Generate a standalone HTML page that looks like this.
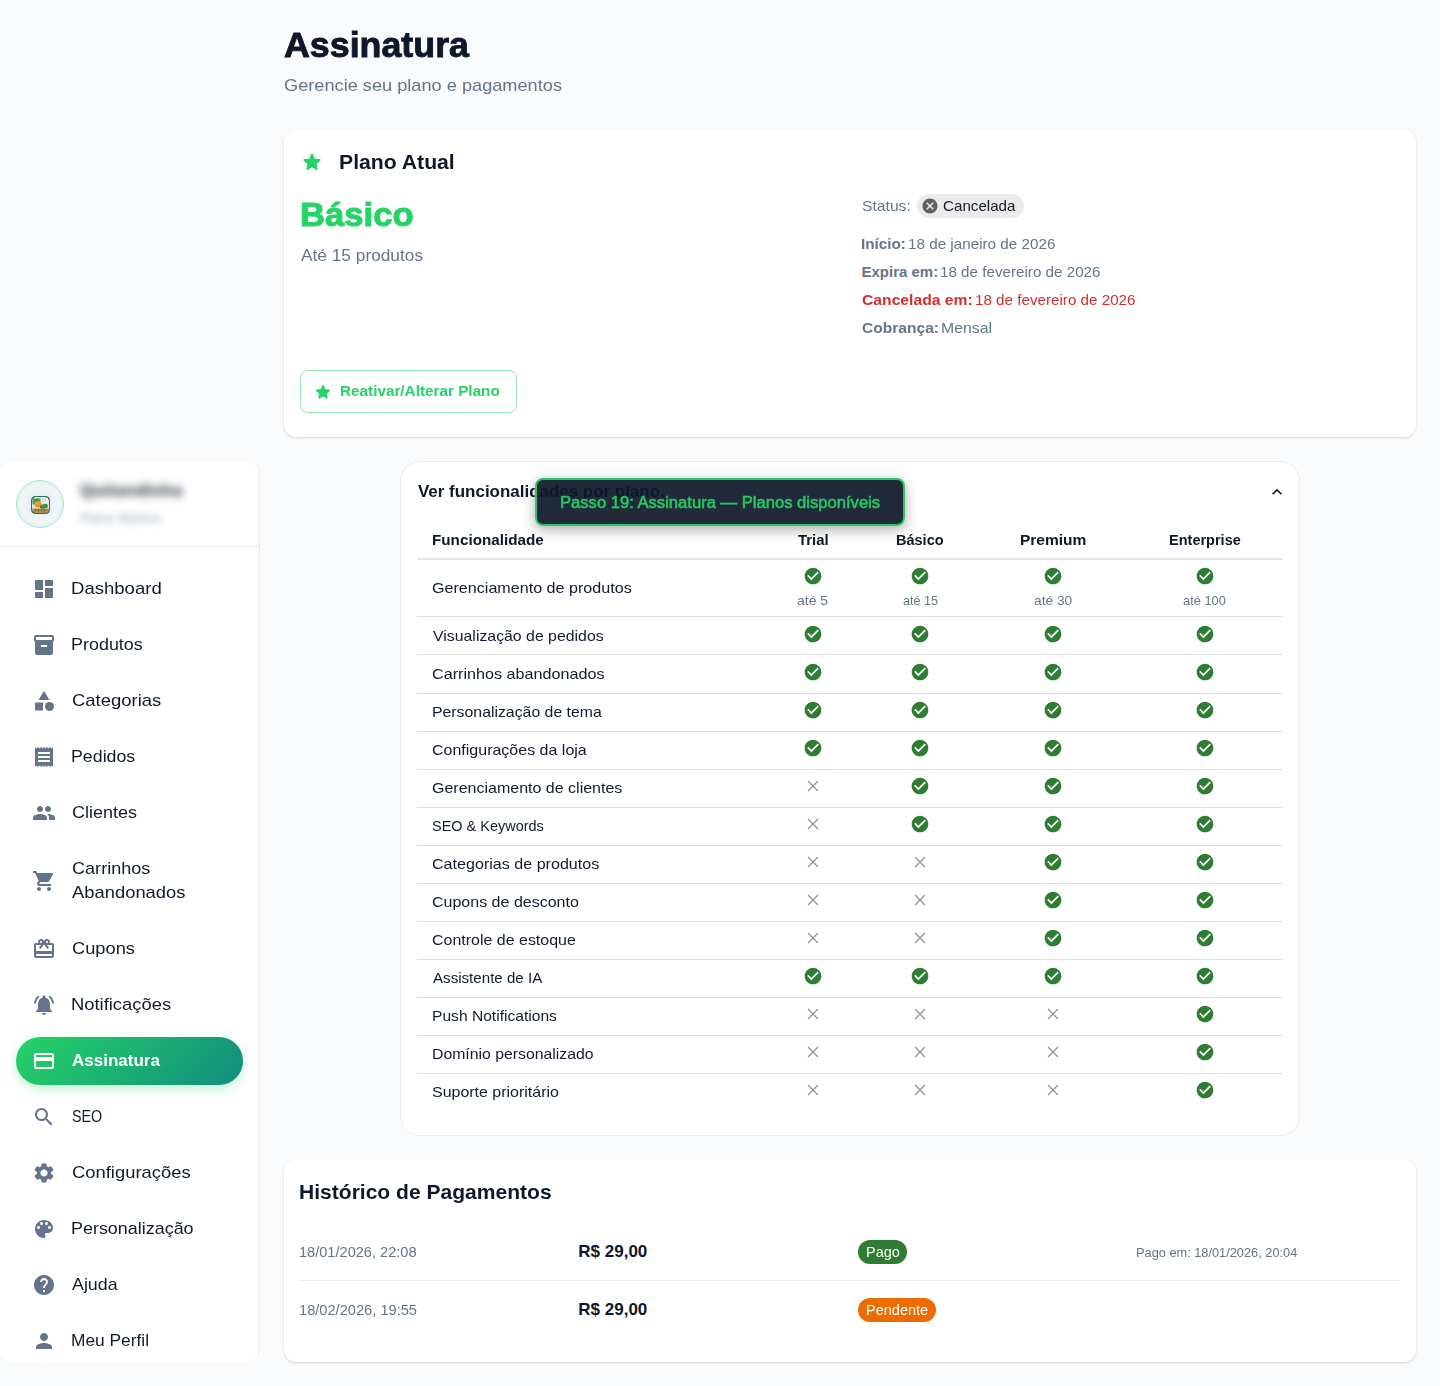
<!DOCTYPE html>
<html lang="pt-BR">
<head>
<meta charset="utf-8">
<title>Assinatura</title>
<style>
*{box-sizing:border-box;margin:0;padding:0}
html,body{width:1440px;height:1386px;overflow:hidden}
body{background:#f8fafc;font-family:"Liberation Sans",sans-serif;color:#0f172a;position:relative}
svg{display:block}
.abs{position:absolute}
.t{position:absolute;white-space:nowrap;line-height:1}

/* ---------- sidebar ---------- */
.sb{position:absolute;left:0;top:462px;width:260px;height:900px;background:#fff;border-right:1px solid #ebebeb;border-radius:12px;overflow:hidden}
.sb .hd{position:absolute;left:0;top:0;width:100%;height:85px;border-bottom:1px solid #e8ecf1}
.av{position:absolute;left:16px;top:18px;width:48px;height:48px;border-radius:50%;border:1px solid #a7e5c4;background:radial-gradient(circle at 50% 50%,#e8f1f4 0,#e7f0f4 38%,#f1f6f8 56%,#ebf3f6 64%,#deebf0 80%,#d7e7ed 100%)}
.av svg{position:absolute;left:14px;top:14.5px;width:19px;height:18px}
.blur1{position:absolute;left:80px;top:19px;font-size:17px;font-weight:700;color:#1e293b;letter-spacing:.3px;line-height:20px;white-space:nowrap;filter:blur(4.4px)}
.blur2{position:absolute;left:80px;top:48.5px;font-size:13.8px;color:#8b97a8;line-height:16px;white-space:nowrap;filter:blur(3.8px);opacity:.8}
.nav{position:absolute;left:16px;width:227px;height:48px;border-radius:24px}
.nav svg{position:absolute;left:16px;top:12px;width:24px;height:24px;fill:#64748b}
.nav.two{height:80px}
.nav.two svg{top:28px}
.nav.on{background:linear-gradient(135deg,#25d366 0%,#128c7e 100%);box-shadow:0 4px 12px rgba(37,211,102,.3)}
.nav.on svg{fill:#fff}

.t{transform-origin:0 0;display:block}

/* ---------- main ---------- */
.card{position:absolute;background:#fff;border-radius:12px;box-shadow:0 1px 3px rgba(0,0,0,.10),0 1px 2px rgba(0,0,0,.06)}
.acc{position:absolute;left:400px;top:461px;width:900px;height:675px;background:#fff;border:1px solid #ebebeb;border-radius:20px}
.ic{position:absolute}
.chip{position:absolute;height:24px;border-radius:12px}
.btn{position:absolute;left:300px;top:370px;width:217px;height:43px;border:1px solid rgba(37,211,102,.5);border-radius:8px}
.ln{position:absolute;left:417px;width:866px;height:1px;background:#e0e0e0}
.ck{position:absolute;width:20px;height:20px;fill:#2e7d32}
.xx{position:absolute;width:12px;height:12px;stroke:#939393;stroke-width:1.25;fill:none}
.tip{position:absolute;left:535px;top:478px;width:370px;height:47.5px;background:rgba(15,23,42,.92);border:2px solid #23cb62;border-radius:8px;box-shadow:0 4px 14px rgba(0,0,0,.32);z-index:20}
</style>
</head>
<body>
<!-- ================= MAIN ================= -->
<div class="card" style="left:284px;top:130px;width:1132px;height:307px"></div>
<svg class="ic" style="left:300px;top:150px;width:24px;height:24px;fill:#25d366" viewBox="0 0 24 24"><path d="M12 17.27l4.15 2.51c.76.46 1.69-.22 1.49-1.08l-1.1-4.72 3.67-3.18c.67-.58.31-1.68-.57-1.75l-4.83-.41-1.89-4.46c-.34-.81-1.5-.81-1.84 0L9.19 8.63l-4.83.41c-.88.07-1.24 1.17-.57 1.75l3.67 3.18-1.1 4.72c-.2.86.73 1.54 1.49 1.08l4.15-2.5z"/></svg>
<div class="chip" style="left:917px;top:194px;width:107px;background:#ebebeb"></div>
<svg class="ic" style="left:921px;top:197px;width:18px;height:18px;fill:#616161" viewBox="0 0 24 24"><path d="M12 2C6.47 2 2 6.47 2 12s4.47 10 10 10 10-4.47 10-10S17.53 2 12 2zm5 13.59L15.59 17 12 13.41 8.41 17 7 15.59 10.59 12 7 8.41 8.41 7 12 10.59 15.59 7 17 8.41 13.41 12 17 15.59z"/></svg>
<div class="btn"></div>
<svg class="ic" style="left:313px;top:381.5px;width:20px;height:20px;fill:#25d366" viewBox="0 0 24 24"><path d="M12 17.27l4.15 2.51c.76.46 1.69-.22 1.49-1.08l-1.1-4.72 3.67-3.18c.67-.58.31-1.68-.57-1.75l-4.83-.41-1.89-4.46c-.34-.81-1.5-.81-1.84 0L9.19 8.63l-4.83.41c-.88.07-1.24 1.17-.57 1.75l3.67 3.18-1.1 4.72c-.2.86.73 1.54 1.49 1.08l4.15-2.5z"/></svg>
<div class="acc"></div>
<svg class="ic" style="left:1267px;top:482px;width:20px;height:20px;fill:#0f172a" viewBox="0 0 24 24"><path d="M12 8l-6 6 1.41 1.41L12 10.83l4.59 4.58L18 14z"/></svg>
<div class="ln" style="top:558px;height:2px;background:#e6e7e9"></div>
<div class="ln" style="top:616px"></div>
<div class="ln" style="top:654px"></div>
<div class="ln" style="top:693px"></div>
<div class="ln" style="top:731px"></div>
<div class="ln" style="top:769px"></div>
<div class="ln" style="top:807px"></div>
<div class="ln" style="top:845px"></div>
<div class="ln" style="top:883px"></div>
<div class="ln" style="top:921px"></div>
<div class="ln" style="top:959px"></div>
<div class="ln" style="top:997px"></div>
<div class="ln" style="top:1035px"></div>
<div class="ln" style="top:1073px"></div>
<svg class="ck" style="left:802.9px;top:566.2px" viewBox="0 0 24 24"><path d="M12 2C6.48 2 2 6.48 2 12s4.48 10 10 10 10-4.48 10-10S17.52 2 12 2zm-2 15l-5-5 1.41-1.41L10 14.17l7.59-7.59L19 8l-9 9z"/></svg>
<svg class="ck" style="left:910.1px;top:566.2px" viewBox="0 0 24 24"><path d="M12 2C6.48 2 2 6.48 2 12s4.48 10 10 10 10-4.48 10-10S17.52 2 12 2zm-2 15l-5-5 1.41-1.41L10 14.17l7.59-7.59L19 8l-9 9z"/></svg>
<svg class="ck" style="left:1043.0px;top:566.2px" viewBox="0 0 24 24"><path d="M12 2C6.48 2 2 6.48 2 12s4.48 10 10 10 10-4.48 10-10S17.52 2 12 2zm-2 15l-5-5 1.41-1.41L10 14.17l7.59-7.59L19 8l-9 9z"/></svg>
<svg class="ck" style="left:1195.0px;top:566.2px" viewBox="0 0 24 24"><path d="M12 2C6.48 2 2 6.48 2 12s4.48 10 10 10 10-4.48 10-10S17.52 2 12 2zm-2 15l-5-5 1.41-1.41L10 14.17l7.59-7.59L19 8l-9 9z"/></svg>
<svg class="ck" style="left:802.9px;top:624.0px" viewBox="0 0 24 24"><path d="M12 2C6.48 2 2 6.48 2 12s4.48 10 10 10 10-4.48 10-10S17.52 2 12 2zm-2 15l-5-5 1.41-1.41L10 14.17l7.59-7.59L19 8l-9 9z"/></svg>
<svg class="ck" style="left:910.1px;top:624.0px" viewBox="0 0 24 24"><path d="M12 2C6.48 2 2 6.48 2 12s4.48 10 10 10 10-4.48 10-10S17.52 2 12 2zm-2 15l-5-5 1.41-1.41L10 14.17l7.59-7.59L19 8l-9 9z"/></svg>
<svg class="ck" style="left:1043.0px;top:624.0px" viewBox="0 0 24 24"><path d="M12 2C6.48 2 2 6.48 2 12s4.48 10 10 10 10-4.48 10-10S17.52 2 12 2zm-2 15l-5-5 1.41-1.41L10 14.17l7.59-7.59L19 8l-9 9z"/></svg>
<svg class="ck" style="left:1195.0px;top:624.0px" viewBox="0 0 24 24"><path d="M12 2C6.48 2 2 6.48 2 12s4.48 10 10 10 10-4.48 10-10S17.52 2 12 2zm-2 15l-5-5 1.41-1.41L10 14.17l7.59-7.59L19 8l-9 9z"/></svg>
<svg class="ck" style="left:802.9px;top:662.0px" viewBox="0 0 24 24"><path d="M12 2C6.48 2 2 6.48 2 12s4.48 10 10 10 10-4.48 10-10S17.52 2 12 2zm-2 15l-5-5 1.41-1.41L10 14.17l7.59-7.59L19 8l-9 9z"/></svg>
<svg class="ck" style="left:910.1px;top:662.0px" viewBox="0 0 24 24"><path d="M12 2C6.48 2 2 6.48 2 12s4.48 10 10 10 10-4.48 10-10S17.52 2 12 2zm-2 15l-5-5 1.41-1.41L10 14.17l7.59-7.59L19 8l-9 9z"/></svg>
<svg class="ck" style="left:1043.0px;top:662.0px" viewBox="0 0 24 24"><path d="M12 2C6.48 2 2 6.48 2 12s4.48 10 10 10 10-4.48 10-10S17.52 2 12 2zm-2 15l-5-5 1.41-1.41L10 14.17l7.59-7.59L19 8l-9 9z"/></svg>
<svg class="ck" style="left:1195.0px;top:662.0px" viewBox="0 0 24 24"><path d="M12 2C6.48 2 2 6.48 2 12s4.48 10 10 10 10-4.48 10-10S17.52 2 12 2zm-2 15l-5-5 1.41-1.41L10 14.17l7.59-7.59L19 8l-9 9z"/></svg>
<svg class="ck" style="left:802.9px;top:700.0px" viewBox="0 0 24 24"><path d="M12 2C6.48 2 2 6.48 2 12s4.48 10 10 10 10-4.48 10-10S17.52 2 12 2zm-2 15l-5-5 1.41-1.41L10 14.17l7.59-7.59L19 8l-9 9z"/></svg>
<svg class="ck" style="left:910.1px;top:700.0px" viewBox="0 0 24 24"><path d="M12 2C6.48 2 2 6.48 2 12s4.48 10 10 10 10-4.48 10-10S17.52 2 12 2zm-2 15l-5-5 1.41-1.41L10 14.17l7.59-7.59L19 8l-9 9z"/></svg>
<svg class="ck" style="left:1043.0px;top:700.0px" viewBox="0 0 24 24"><path d="M12 2C6.48 2 2 6.48 2 12s4.48 10 10 10 10-4.48 10-10S17.52 2 12 2zm-2 15l-5-5 1.41-1.41L10 14.17l7.59-7.59L19 8l-9 9z"/></svg>
<svg class="ck" style="left:1195.0px;top:700.0px" viewBox="0 0 24 24"><path d="M12 2C6.48 2 2 6.48 2 12s4.48 10 10 10 10-4.48 10-10S17.52 2 12 2zm-2 15l-5-5 1.41-1.41L10 14.17l7.59-7.59L19 8l-9 9z"/></svg>
<svg class="ck" style="left:802.9px;top:738.0px" viewBox="0 0 24 24"><path d="M12 2C6.48 2 2 6.48 2 12s4.48 10 10 10 10-4.48 10-10S17.52 2 12 2zm-2 15l-5-5 1.41-1.41L10 14.17l7.59-7.59L19 8l-9 9z"/></svg>
<svg class="ck" style="left:910.1px;top:738.0px" viewBox="0 0 24 24"><path d="M12 2C6.48 2 2 6.48 2 12s4.48 10 10 10 10-4.48 10-10S17.52 2 12 2zm-2 15l-5-5 1.41-1.41L10 14.17l7.59-7.59L19 8l-9 9z"/></svg>
<svg class="ck" style="left:1043.0px;top:738.0px" viewBox="0 0 24 24"><path d="M12 2C6.48 2 2 6.48 2 12s4.48 10 10 10 10-4.48 10-10S17.52 2 12 2zm-2 15l-5-5 1.41-1.41L10 14.17l7.59-7.59L19 8l-9 9z"/></svg>
<svg class="ck" style="left:1195.0px;top:738.0px" viewBox="0 0 24 24"><path d="M12 2C6.48 2 2 6.48 2 12s4.48 10 10 10 10-4.48 10-10S17.52 2 12 2zm-2 15l-5-5 1.41-1.41L10 14.17l7.59-7.59L19 8l-9 9z"/></svg>
<svg class="xx" style="left:806.9px;top:780.0px" viewBox="0 0 12 12"><path d="M1 1l10 10M11 1L1 11"/></svg>
<svg class="ck" style="left:910.1px;top:776.0px" viewBox="0 0 24 24"><path d="M12 2C6.48 2 2 6.48 2 12s4.48 10 10 10 10-4.48 10-10S17.52 2 12 2zm-2 15l-5-5 1.41-1.41L10 14.17l7.59-7.59L19 8l-9 9z"/></svg>
<svg class="ck" style="left:1043.0px;top:776.0px" viewBox="0 0 24 24"><path d="M12 2C6.48 2 2 6.48 2 12s4.48 10 10 10 10-4.48 10-10S17.52 2 12 2zm-2 15l-5-5 1.41-1.41L10 14.17l7.59-7.59L19 8l-9 9z"/></svg>
<svg class="ck" style="left:1195.0px;top:776.0px" viewBox="0 0 24 24"><path d="M12 2C6.48 2 2 6.48 2 12s4.48 10 10 10 10-4.48 10-10S17.52 2 12 2zm-2 15l-5-5 1.41-1.41L10 14.17l7.59-7.59L19 8l-9 9z"/></svg>
<svg class="xx" style="left:806.9px;top:818.0px" viewBox="0 0 12 12"><path d="M1 1l10 10M11 1L1 11"/></svg>
<svg class="ck" style="left:910.1px;top:814.0px" viewBox="0 0 24 24"><path d="M12 2C6.48 2 2 6.48 2 12s4.48 10 10 10 10-4.48 10-10S17.52 2 12 2zm-2 15l-5-5 1.41-1.41L10 14.17l7.59-7.59L19 8l-9 9z"/></svg>
<svg class="ck" style="left:1043.0px;top:814.0px" viewBox="0 0 24 24"><path d="M12 2C6.48 2 2 6.48 2 12s4.48 10 10 10 10-4.48 10-10S17.52 2 12 2zm-2 15l-5-5 1.41-1.41L10 14.17l7.59-7.59L19 8l-9 9z"/></svg>
<svg class="ck" style="left:1195.0px;top:814.0px" viewBox="0 0 24 24"><path d="M12 2C6.48 2 2 6.48 2 12s4.48 10 10 10 10-4.48 10-10S17.52 2 12 2zm-2 15l-5-5 1.41-1.41L10 14.17l7.59-7.59L19 8l-9 9z"/></svg>
<svg class="xx" style="left:806.9px;top:856.0px" viewBox="0 0 12 12"><path d="M1 1l10 10M11 1L1 11"/></svg>
<svg class="xx" style="left:914.1px;top:856.0px" viewBox="0 0 12 12"><path d="M1 1l10 10M11 1L1 11"/></svg>
<svg class="ck" style="left:1043.0px;top:852.0px" viewBox="0 0 24 24"><path d="M12 2C6.48 2 2 6.48 2 12s4.48 10 10 10 10-4.48 10-10S17.52 2 12 2zm-2 15l-5-5 1.41-1.41L10 14.17l7.59-7.59L19 8l-9 9z"/></svg>
<svg class="ck" style="left:1195.0px;top:852.0px" viewBox="0 0 24 24"><path d="M12 2C6.48 2 2 6.48 2 12s4.48 10 10 10 10-4.48 10-10S17.52 2 12 2zm-2 15l-5-5 1.41-1.41L10 14.17l7.59-7.59L19 8l-9 9z"/></svg>
<svg class="xx" style="left:806.9px;top:894.0px" viewBox="0 0 12 12"><path d="M1 1l10 10M11 1L1 11"/></svg>
<svg class="xx" style="left:914.1px;top:894.0px" viewBox="0 0 12 12"><path d="M1 1l10 10M11 1L1 11"/></svg>
<svg class="ck" style="left:1043.0px;top:890.0px" viewBox="0 0 24 24"><path d="M12 2C6.48 2 2 6.48 2 12s4.48 10 10 10 10-4.48 10-10S17.52 2 12 2zm-2 15l-5-5 1.41-1.41L10 14.17l7.59-7.59L19 8l-9 9z"/></svg>
<svg class="ck" style="left:1195.0px;top:890.0px" viewBox="0 0 24 24"><path d="M12 2C6.48 2 2 6.48 2 12s4.48 10 10 10 10-4.48 10-10S17.52 2 12 2zm-2 15l-5-5 1.41-1.41L10 14.17l7.59-7.59L19 8l-9 9z"/></svg>
<svg class="xx" style="left:806.9px;top:932.0px" viewBox="0 0 12 12"><path d="M1 1l10 10M11 1L1 11"/></svg>
<svg class="xx" style="left:914.1px;top:932.0px" viewBox="0 0 12 12"><path d="M1 1l10 10M11 1L1 11"/></svg>
<svg class="ck" style="left:1043.0px;top:928.0px" viewBox="0 0 24 24"><path d="M12 2C6.48 2 2 6.48 2 12s4.48 10 10 10 10-4.48 10-10S17.52 2 12 2zm-2 15l-5-5 1.41-1.41L10 14.17l7.59-7.59L19 8l-9 9z"/></svg>
<svg class="ck" style="left:1195.0px;top:928.0px" viewBox="0 0 24 24"><path d="M12 2C6.48 2 2 6.48 2 12s4.48 10 10 10 10-4.48 10-10S17.52 2 12 2zm-2 15l-5-5 1.41-1.41L10 14.17l7.59-7.59L19 8l-9 9z"/></svg>
<svg class="ck" style="left:802.9px;top:966.0px" viewBox="0 0 24 24"><path d="M12 2C6.48 2 2 6.48 2 12s4.48 10 10 10 10-4.48 10-10S17.52 2 12 2zm-2 15l-5-5 1.41-1.41L10 14.17l7.59-7.59L19 8l-9 9z"/></svg>
<svg class="ck" style="left:910.1px;top:966.0px" viewBox="0 0 24 24"><path d="M12 2C6.48 2 2 6.48 2 12s4.48 10 10 10 10-4.48 10-10S17.52 2 12 2zm-2 15l-5-5 1.41-1.41L10 14.17l7.59-7.59L19 8l-9 9z"/></svg>
<svg class="ck" style="left:1043.0px;top:966.0px" viewBox="0 0 24 24"><path d="M12 2C6.48 2 2 6.48 2 12s4.48 10 10 10 10-4.48 10-10S17.52 2 12 2zm-2 15l-5-5 1.41-1.41L10 14.17l7.59-7.59L19 8l-9 9z"/></svg>
<svg class="ck" style="left:1195.0px;top:966.0px" viewBox="0 0 24 24"><path d="M12 2C6.48 2 2 6.48 2 12s4.48 10 10 10 10-4.48 10-10S17.52 2 12 2zm-2 15l-5-5 1.41-1.41L10 14.17l7.59-7.59L19 8l-9 9z"/></svg>
<svg class="xx" style="left:806.9px;top:1007.6px" viewBox="0 0 12 12"><path d="M1 1l10 10M11 1L1 11"/></svg>
<svg class="xx" style="left:914.1px;top:1007.6px" viewBox="0 0 12 12"><path d="M1 1l10 10M11 1L1 11"/></svg>
<svg class="xx" style="left:1047.0px;top:1007.6px" viewBox="0 0 12 12"><path d="M1 1l10 10M11 1L1 11"/></svg>
<svg class="ck" style="left:1195.0px;top:1003.6px" viewBox="0 0 24 24"><path d="M12 2C6.48 2 2 6.48 2 12s4.48 10 10 10 10-4.48 10-10S17.52 2 12 2zm-2 15l-5-5 1.41-1.41L10 14.17l7.59-7.59L19 8l-9 9z"/></svg>
<svg class="xx" style="left:806.9px;top:1045.7px" viewBox="0 0 12 12"><path d="M1 1l10 10M11 1L1 11"/></svg>
<svg class="xx" style="left:914.1px;top:1045.7px" viewBox="0 0 12 12"><path d="M1 1l10 10M11 1L1 11"/></svg>
<svg class="xx" style="left:1047.0px;top:1045.7px" viewBox="0 0 12 12"><path d="M1 1l10 10M11 1L1 11"/></svg>
<svg class="ck" style="left:1195.0px;top:1041.7px" viewBox="0 0 24 24"><path d="M12 2C6.48 2 2 6.48 2 12s4.48 10 10 10 10-4.48 10-10S17.52 2 12 2zm-2 15l-5-5 1.41-1.41L10 14.17l7.59-7.59L19 8l-9 9z"/></svg>
<svg class="xx" style="left:806.9px;top:1083.7px" viewBox="0 0 12 12"><path d="M1 1l10 10M11 1L1 11"/></svg>
<svg class="xx" style="left:914.1px;top:1083.7px" viewBox="0 0 12 12"><path d="M1 1l10 10M11 1L1 11"/></svg>
<svg class="xx" style="left:1047.0px;top:1083.7px" viewBox="0 0 12 12"><path d="M1 1l10 10M11 1L1 11"/></svg>
<svg class="ck" style="left:1195.0px;top:1079.7px" viewBox="0 0 24 24"><path d="M12 2C6.48 2 2 6.48 2 12s4.48 10 10 10 10-4.48 10-10S17.52 2 12 2zm-2 15l-5-5 1.41-1.41L10 14.17l7.59-7.59L19 8l-9 9z"/></svg>
<div class="tip"></div>
<div class="card" style="left:284px;top:1160px;width:1132px;height:202px"></div>
<div class="abs" style="left:300px;top:1280px;width:1100px;height:1px;background:#e6e9ee"></div>
<div class="chip" style="left:857.7px;top:1239.7px;width:49.6px;background:#2e7d32"></div>
<div class="chip" style="left:857.7px;top:1297.7px;width:78.3px;background:#ed6c02"></div>
<!-- ================= SIDEBAR ================= -->
<aside class="sb">
  <div class="hd">
    <div class="av"><svg viewBox="0 0 19 18">
      <rect x=".5" y=".5" width="18" height="17" rx="4" fill="#dfeadd" stroke="#2c6f63"/>
      <path d="M1.5 2.5h8v6h-8z" fill="#4f9c5b"/><path d="M3 3.5l3 2.5M6.500 2.500l-1 4" stroke="#2f7a45" stroke-width=".8"/>
      <path d="M10.500 2h6.500v5h-6.500z" fill="#edf3ee"/><path d="M12 2v4.500M14.500 2v3.500" stroke="#9fc4a8" stroke-width=".7"/>
      <circle cx="7" cy="8.200" r="3.300" fill="#f28c22"/><circle cx="6.200" cy="7.400" r="1.100" fill="#f7ad4d"/>
      <rect x="8.800" y="8.200" width="8.200" height="4.400" rx="2.200" fill="#3f8f4b" transform="rotate(-14 13 10.400)"/>
      <path d="M1.200 12.400h16.600v2.600a2.500 2.500 0 0 1-2.500 2.500H3.700a2.500 2.500 0 0 1-2.500-2.500z" fill="#b8935c"/>
      <path d="M2 14.200h15M4.500 12.600v4.500M7.500 12.600v4.500M10.500 12.600v4.500M13.500 12.600v4.500" stroke="#7c6236" stroke-width=".7"/>
      <rect x=".5" y=".5" width="18" height="17" rx="4" fill="none" stroke="#2c6f63"/>
    </svg></div>
    <div class="blur1">Quitandinha</div>
    <div class="blur2">Plano Básico</div>
  </div>

  <div class="nav" style="top:103px"><svg viewBox="0 0 24 24"><path d="M3 13h8V3H3v10zm0 8h8v-6H3v6zm10 0h8V11h-8v10zm0-18v6h8V3h-8z"/></svg></div>
  <div class="nav" style="top:159px"><svg viewBox="0 0 24 24"><path d="M20 2H4c-1 0-2 .9-2 2v3.01c0 .72.43 1.34 1 1.69V20c0 1.100 1.100 2 2 2h14c.9 0 2-.9 2-2V8.700c.57-.35 1-.97 1-1.690V4c0-1.100-1-2-2-2zm-5 12H9v-2h6v2zm5-7H4V4h16v3z"/></svg></div>
  <div class="nav" style="top:215px"><svg viewBox="0 0 24 24"><path d="M12 2l-5.500 9h11z"/><circle cx="17.500" cy="17.500" r="4.500"/><path d="M3 13.500h8v8H3z"/></svg></div>
  <div class="nav" style="top:271px"><svg viewBox="0 0 24 24"><path d="M18 17H6v-2h12v2zm0-4H6v-2h12v2zm0-4H6V7h12v2zM3 22l1.500-1.500L6 22l1.500-1.500L9 22l1.500-1.500L12 22l1.500-1.500L15 22l1.500-1.500L18 22l1.500-1.500L21 22V2l-1.500 1.500L18 2l-1.500 1.500L15 2l-1.500 1.500L12 2l-1.500 1.500L9 2 7.500 3.500 6 2 4.500 3.500 3 2v20z"/></svg></div>
  <div class="nav" style="top:327px"><svg viewBox="0 0 24 24"><path d="M16 11c1.660 0 2.990-1.340 2.990-3S17.660 5 16 5c-1.660 0-3 1.340-3 3s1.340 3 3 3zm-8 0c1.660 0 2.990-1.340 2.990-3S9.660 5 8 5C6.340 5 5 6.340 5 8s1.340 3 3 3zm0 2c-2.330 0-7 1.170-7 3.500V19h14v-2.500c0-2.330-4.670-3.500-7-3.500zm8 0c-.29 0-.62.020-.97.050 1.160.84 1.970 1.970 1.970 3.450V19h6v-2.500c0-2.330-4.670-3.500-7-3.500z"/></svg></div>
  <div class="nav two" style="top:379px"><svg viewBox="0 0 24 24"><path d="M7 18c-1.100 0-1.990.9-1.990 2S5.900 22 7 22s2-.9 2-2-.9-2-2-2zM1 2v2h2l3.600 7.590-1.350 2.450c-.16.28-.25.61-.25.960 0 1.100.9 2 2 2h12v-2H7.420c-.14 0-.25-.11-.25-.25l.030-.12.9-1.630h7.450c.75 0 1.410-.41 1.750-1.030l3.580-6.490c.080-.14.120-.31.120-.48 0-.55-.45-1-1-1H5.210l-.94-2H1zm16 16c-1.100 0-1.990.9-1.990 2s.89 2 1.990 2 2-.9 2-2-.9-2-2-2z"/></svg></div>
  <div class="nav" style="top:463px"><svg viewBox="0 0 24 24"><path d="M20 6h-2.180c.11-.31.18-.65.18-1 0-1.660-1.340-3-3-3-1.050 0-1.960.54-2.500 1.350l-.5.670-.5-.68C10.960 2.540 10.050 2 9 2 7.340 2 6 3.340 6 5c0 .35.070.69.18 1H4c-1.110 0-1.990.89-1.990 2L2 19c0 1.110.89 2 2 2h16c1.110 0 2-.89 2-2V8c0-1.110-.89-2-2-2zm-5-2c.55 0 1 .45 1 1s-.45 1-1 1-1-.45-1-1 .45-1 1-1zM9 4c.55 0 1 .45 1 1s-.45 1-1 1-1-.45-1-1 .45-1 1-1zm11 15H4v-2h16v2zm0-5H4V8h5.080L7 10.830 8.620 12 11 8.760l1-1.360 1 1.360L15.380 12 17 10.830 14.920 8H20v6z"/></svg></div>
  <div class="nav" style="top:519px"><svg viewBox="0 0 24 24"><path d="M7.580 4.080L6.150 2.650C3.750 4.480 2.170 7.300 2.030 10.500h2c.15-2.650 1.510-4.970 3.550-6.420zm12.390 6.420h2c-.15-3.200-1.730-6.020-4.120-7.850l-1.420 1.430c2.020 1.450 3.390 3.770 3.540 6.420zM18 11c0-3.070-1.640-5.640-4.500-6.320V4c0-.83-.67-1.500-1.500-1.500s-1.500.67-1.500 1.500v.68C7.630 5.360 6 7.920 6 11v5l-2 2v1h16v-1l-2-2v-5zm-6 11c.14 0 .27-.010.4-.040.65-.14 1.180-.58 1.440-1.180.1-.24.15-.5.15-.78h-4c.010 1.100.9 2 2.010 2z"/></svg></div>
  <div class="nav on" style="top:575px"><svg viewBox="0 0 24 24"><path d="M20 4H4c-1.110 0-1.990.89-1.990 2L2 18c0 1.110.89 2 2 2h16c1.110 0 2-.89 2-2V6c0-1.110-.89-2-2-2zm0 14H4v-6h16v6zm0-10H4V6h16v2z"/></svg></div>
  <div class="nav" style="top:631px"><svg viewBox="0 0 24 24"><path d="M15.500 14h-.79l-.28-.27C15.410 12.590 16 11.110 16 9.500 16 5.910 13.090 3 9.500 3S3 5.910 3 9.500 5.910 16 9.500 16c1.610 0 3.090-.59 4.230-1.570l.27.28v.79l5 4.990L20.490 19l-4.990-5zm-6 0C7.010 14 5 11.990 5 9.500S7.010 5 9.500 5 14 7.010 14 9.500 11.990 14 9.500 14z"/></svg></div>
  <div class="nav" style="top:687px"><svg viewBox="0 0 24 24"><path d="M19.140 12.940c.040-.3.060-.61.060-.94 0-.32-.020-.64-.070-.94l2.030-1.580c.18-.14.23-.41.120-.61l-1.920-3.320c-.12-.22-.37-.29-.59-.22l-2.390.96c-.5-.38-1.030-.7-1.620-.94l-.36-2.540c-.040-.24-.24-.41-.48-.41h-3.840c-.24 0-.43.17-.47.41l-.36 2.540c-.59.24-1.130.57-1.620.94l-2.390-.96c-.22-.080-.47 0-.59.22L2.740 8.870c-.12.21-.080.47.12.61l2.030 1.580c-.050.3-.090.63-.090.94s.020.64.070.94l-2.030 1.580c-.18.14-.23.41-.12.61l1.920 3.320c.12.22.37.29.59.22l2.390-.96c.5.38 1.030.7 1.620.94l.36 2.540c.050.24.24.41.48.41h3.840c.24 0 .44-.17.47-.41l.36-2.540c.59-.24 1.130-.56 1.620-.94l2.390.96c.22.080.47 0 .59-.22l1.920-3.320c.12-.22.070-.47-.12-.61l-2.010-1.580zM12 15.600c-1.980 0-3.600-1.620-3.600-3.600s1.620-3.600 3.600-3.600 3.600 1.620 3.600 3.600-1.620 3.600-3.600 3.600z"/></svg></div>
  <div class="nav" style="top:743px"><svg viewBox="0 0 24 24"><path d="M12 3c-4.970 0-9 4.030-9 9s4.030 9 9 9c.83 0 1.500-.67 1.500-1.500 0-.39-.15-.74-.39-1.010-.23-.26-.38-.61-.38-.99 0-.83.67-1.500 1.500-1.500H16c2.760 0 5-2.240 5-5 0-4.420-4.030-8-9-8zm-5.500 9c-.83 0-1.500-.67-1.500-1.500S5.670 9 6.500 9 8 9.670 8 10.500 7.330 12 6.500 12zm3-4C8.670 8 8 7.330 8 6.500S8.670 5 9.500 5s1.500.67 1.500 1.500S10.330 8 9.500 8zm5 0c-.83 0-1.500-.67-1.500-1.500S13.670 5 14.500 5s1.500.67 1.500 1.500S15.330 8 14.500 8zm3 4c-.83 0-1.500-.67-1.500-1.500S16.670 9 17.500 9s1.500.67 1.500 1.500-.67 1.500-1.500 1.500z"/></svg></div>
  <div class="nav" style="top:799px"><svg viewBox="0 0 24 24"><path d="M12 2C6.480 2 2 6.480 2 12s4.480 10 10 10 10-4.480 10-10S17.520 2 12 2zm1 17h-2v-2h2v2zm2.070-7.750l-.9.92C13.450 12.900 13 13.500 13 15h-2v-.5c0-1.100.45-2.100 1.170-2.830l1.240-1.260c.37-.36.59-.86.59-1.410 0-1.100-.9-2-2-2s-2 .9-2 2H8c0-2.210 1.790-4 4-4s4 1.790 4 4c0 .88-.36 1.680-.93 2.250z"/></svg></div>
  <div class="nav" style="top:855px"><svg viewBox="0 0 24 24"><path d="M12 12c2.210 0 4-1.790 4-4s-1.790-4-4-4-4 1.790-4 4 1.790 4 4 4zm0 2c-2.670 0-8 1.340-8 4v2h16v-2c0-2.660-5.330-4-8-4z"/></svg></div>
</aside>


<!-- ================= TEXT RUNS ================= -->
<span class="t" style="left:71.04px;top:578.80px;font-size:17px;line-height:19px;color:#111a2e;transform:scaleX(1.0910)">Dashboard</span>
<span class="t" style="left:71.08px;top:634.80px;font-size:17px;line-height:19px;color:#111a2e;transform:scaleX(1.0551)">Produtos</span>
<span class="t" style="left:71.59px;top:690.80px;font-size:17px;line-height:19px;color:#111a2e;transform:scaleX(1.0852)">Categorias</span>
<span class="t" style="left:71.09px;top:746.80px;font-size:17px;line-height:19px;color:#111a2e;transform:scaleX(1.0460)">Pedidos</span>
<span class="t" style="left:71.60px;top:802.80px;font-size:17px;line-height:19px;color:#111a2e;transform:scaleX(1.0606)">Clientes</span>
<span class="t" style="left:71.60px;top:858.80px;font-size:17px;line-height:19px;color:#111a2e;transform:scaleX(1.0634)">Carrinhos</span>
<span class="t" style="left:72.40px;top:882.80px;font-size:17px;line-height:19px;color:#111a2e;transform:scaleX(1.0813)">Abandonados</span>
<span class="t" style="left:71.59px;top:938.80px;font-size:17px;line-height:19px;color:#111a2e;transform:scaleX(1.0742)">Cupons</span>
<span class="t" style="left:71.05px;top:994.80px;font-size:17px;line-height:19px;color:#111a2e;transform:scaleX(1.0810)">Notificações</span>
<span class="t" style="left:71.77px;top:1106.80px;font-size:17px;line-height:19px;color:#111a2e;transform:scaleX(0.8406)">SEO</span>
<span class="t" style="left:71.59px;top:1162.80px;font-size:17px;line-height:19px;color:#111a2e;transform:scaleX(1.0818)">Configurações</span>
<span class="t" style="left:71.08px;top:1218.80px;font-size:17px;line-height:19px;color:#111a2e;transform:scaleX(1.0547)">Personalização</span>
<span class="t" style="left:72.40px;top:1274.80px;font-size:17px;line-height:19px;color:#111a2e;transform:scaleX(1.0483)">Ajuda</span>
<span class="t" style="left:71.13px;top:1330.80px;font-size:17px;line-height:19px;color:#111a2e;transform:scaleX(1.0195)">Meu Perfil</span>
<span class="t" style="left:72.25px;top:1050.80px;font-size:17px;line-height:19px;color:#ffffff;transform:scaleX(1.0006);font-weight:700">Assinatura</span>
<span class="t" style="left:284.24px;top:25.10px;font-size:35.2px;line-height:39px;color:#0f172a;transform:scaleX(1.0171);font-weight:700;-webkit-text-stroke:.9px #0f172a">Assinatura</span>
<span class="t" style="left:283.70px;top:76.25px;font-size:17px;line-height:19px;color:#64748b;transform:scaleX(1.0696)">Gerencie seu plano e pagamentos</span>
<span class="t" style="left:339.24px;top:150.00px;font-size:21px;line-height:23px;color:#0f172a;transform:scaleX(1.0089);font-weight:700">Plano Atual</span>
<span class="t" style="left:299.64px;top:196.20px;font-size:33px;line-height:37px;color:#25d366;transform:scaleX(1.0501);font-weight:700;-webkit-text-stroke:1px #25d366">Básico</span>
<span class="t" style="left:300.50px;top:245.75px;font-size:17px;line-height:19px;color:#64748b;transform:scaleX(1.0167)">Até 15 produtos</span>
<span class="t" style="left:861.72px;top:196.75px;font-size:15px;line-height:17px;color:#64748b;transform:scaleX(1.0449)">Status:</span>
<span class="t" style="left:942.93px;top:197.75px;font-size:13.9px;line-height:16px;color:#111a2e;transform:scaleX(1.0913)">Cancelada</span>
<span class="t" style="left:861.48px;top:235.25px;font-size:15px;line-height:17px;color:#64748b;transform:scaleX(1.0180);font-weight:700">Início:</span>
<span class="t" style="left:908.23px;top:235.25px;font-size:15px;line-height:17px;color:#64748b;transform:scaleX(1.0157)">18 de janeiro de 2026</span>
<span class="t" style="left:861.50px;top:263.25px;font-size:15px;line-height:17px;color:#64748b;transform:scaleX(1.0000);font-weight:700">Expira em:</span>
<span class="t" style="left:940.24px;top:263.25px;font-size:15px;line-height:17px;color:#64748b;transform:scaleX(1.0128)">18 de fevereiro de 2026</span>
<span class="t" style="left:861.98px;top:291.25px;font-size:15px;line-height:17px;color:#d32f2f;transform:scaleX(1.0457);font-weight:700">Cancelada em:</span>
<span class="t" style="left:974.74px;top:291.25px;font-size:15px;line-height:17px;color:#d32f2f;transform:scaleX(1.0128)">18 de fevereiro de 2026</span>
<span class="t" style="left:861.98px;top:319.25px;font-size:15px;line-height:17px;color:#64748b;transform:scaleX(1.0381);font-weight:700">Cobrança:</span>
<span class="t" style="left:941.18px;top:319.25px;font-size:15px;line-height:17px;color:#64748b;transform:scaleX(1.0541)">Mensal</span>
<span class="t" style="left:340.23px;top:382.25px;font-size:15px;line-height:17px;color:#25d366;transform:scaleX(1.0193);font-weight:700">Reativar/Alterar Plano</span>
<span class="t" style="left:417.50px;top:482.00px;font-size:17px;line-height:19px;color:#0f172a;transform:scaleX(0.9970);font-weight:700">Ver funcionalidades por plano.</span>
<span class="t" style="left:431.98px;top:531.00px;font-size:15px;line-height:17px;color:#0f172a;transform:scaleX(1.0161);font-weight:700">Funcionalidade</span>
<span class="t" style="left:798.20px;top:531.00px;font-size:15px;line-height:17px;color:#0f172a;transform:scaleX(0.9950);font-weight:700">Trial</span>
<span class="t" style="left:896.13px;top:531.00px;font-size:15px;line-height:17px;color:#0f172a;transform:scaleX(0.9675);font-weight:700">Básico</span>
<span class="t" style="left:1019.97px;top:531.00px;font-size:15px;line-height:17px;color:#0f172a;transform:scaleX(1.0329);font-weight:700">Premium</span>
<span class="t" style="left:1168.83px;top:531.00px;font-size:15px;line-height:17px;color:#0f172a;transform:scaleX(0.9677);font-weight:700">Enterprise</span>
<span class="t" style="left:432.29px;top:579.00px;font-size:15px;line-height:17px;color:#111a2e;transform:scaleX(1.0739)">Gerenciamento de produtos</span>
<span class="t" style="left:433.10px;top:627.00px;font-size:15px;line-height:17px;color:#111a2e;transform:scaleX(1.0565)">Visualização de pedidos</span>
<span class="t" style="left:432.29px;top:665.00px;font-size:15px;line-height:17px;color:#111a2e;transform:scaleX(1.0774)">Carrinhos abandonados</span>
<span class="t" style="left:432.38px;top:703.00px;font-size:15px;line-height:17px;color:#111a2e;transform:scaleX(1.0548)">Personalização de tema</span>
<span class="t" style="left:432.30px;top:741.00px;font-size:15px;line-height:17px;color:#111a2e;transform:scaleX(1.0664)">Configurações da loja</span>
<span class="t" style="left:432.30px;top:779.00px;font-size:15px;line-height:17px;color:#111a2e;transform:scaleX(1.0669)">Gerenciamento de clientes</span>
<span class="t" style="left:432.38px;top:817.00px;font-size:15px;line-height:17px;color:#111a2e;transform:scaleX(0.9647)">SEO &amp; Keywords</span>
<span class="t" style="left:432.30px;top:855.00px;font-size:15px;line-height:17px;color:#111a2e;transform:scaleX(1.0727)">Categorias de produtos</span>
<span class="t" style="left:432.30px;top:893.00px;font-size:15px;line-height:17px;color:#111a2e;transform:scaleX(1.0672)">Cupons de desconto</span>
<span class="t" style="left:432.30px;top:931.00px;font-size:15px;line-height:17px;color:#111a2e;transform:scaleX(1.0647)">Controle de estoque</span>
<span class="t" style="left:433.10px;top:969.00px;font-size:15px;line-height:17px;color:#111a2e;transform:scaleX(1.0079)">Assistente de IA</span>
<span class="t" style="left:432.40px;top:1006.60px;font-size:15px;line-height:17px;color:#111a2e;transform:scaleX(1.0402)">Push Notifications</span>
<span class="t" style="left:432.38px;top:1044.70px;font-size:15px;line-height:17px;color:#111a2e;transform:scaleX(1.0535)">Domínio personalizado</span>
<span class="t" style="left:432.30px;top:1082.70px;font-size:15px;line-height:17px;color:#111a2e;transform:scaleX(1.0644)">Suporte prioritário</span>
<span class="t" style="left:797.15px;top:592.80px;font-size:12.8px;line-height:15px;color:#64748b;transform:scaleX(1.0909)">até 5</span>
<span class="t" style="left:902.61px;top:592.80px;font-size:12.8px;line-height:15px;color:#64748b;transform:scaleX(0.9826)">até 15</span>
<span class="t" style="left:1034.16px;top:592.80px;font-size:12.8px;line-height:15px;color:#64748b;transform:scaleX(1.0754)">até 30</span>
<span class="t" style="left:1183.10px;top:592.80px;font-size:12.8px;line-height:15px;color:#64748b;transform:scaleX(1.0036)">até 100</span>
<span class="t" style="left:559.95px;top:493.60px;font-size:16.0px;line-height:17px;color:#23cb62;transform:scaleX(1.0372);z-index:30;-webkit-text-stroke:.55px #23cb62">Passo 19: Assinatura — Planos disponíveis</span>
<span class="t" style="left:299.15px;top:1180.40px;font-size:21px;line-height:23px;color:#0f172a;transform:scaleX(1.0024);font-weight:700">Histórico de Pagamentos</span>
<span class="t" style="left:299.43px;top:1243.30px;font-size:15px;line-height:17px;color:#64748b;transform:scaleX(0.9719)">18/01/2026, 22:08</span>
<span class="t" style="left:299.42px;top:1301.30px;font-size:15px;line-height:17px;color:#64748b;transform:scaleX(0.9757)">18/02/2026, 19:55</span>
<span class="t" style="left:578.30px;top:1242.20px;font-size:17px;line-height:19px;color:#0f172a;transform:scaleX(1.0000);font-weight:700">R$ 29,00</span>
<span class="t" style="left:578.30px;top:1300.20px;font-size:17px;line-height:19px;color:#0f172a;transform:scaleX(1.0000);font-weight:700">R$ 29,00</span>
<span class="t" style="left:865.66px;top:1243.60px;font-size:13.9px;line-height:16px;color:#ffffff;transform:scaleX(1.0419)">Pago</span>
<span class="t" style="left:865.66px;top:1301.60px;font-size:13.9px;line-height:16px;color:#ffffff;transform:scaleX(1.0448)">Pendente</span>
<span class="t" style="left:1136.30px;top:1245.30px;font-size:12.8px;line-height:15px;color:#64748b;transform:scaleX(0.9984)">Pago em: 18/01/2026, 20:04</span>
</body>
</html>
